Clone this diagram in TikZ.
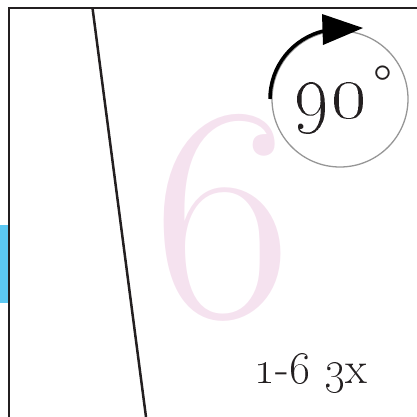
\documentclass[tikz,border=0pt]{standalone}
\definecolor{framegray}{RGB}{35,31,32}
\definecolor{tabblue}{RGB}{92,200,242}
\definecolor{sixpink}{RGB}{245,226,239}
\definecolor{ringgray}{RGB}{150,150,150}
\tikzset{
  frameline/.style={framegray, line width=3},
  ringline/.style={ringgray, line width=1.3},
  txt/.style={inner sep=0, text=framegray, font=\fontsize{24}{24}\selectfont}
}
\begin{document}
\begin{tikzpicture}[x=1bp,y=-1bp]
\useasboundingbox (0,0) rectangle (417,417);
\clip (0,0) rectangle (417,417);
\fill[tabblue] (0,225) rectangle (9,303);
\node[inner sep=0, text=sixpink, font=\fontsize{307}{307}\selectfont, anchor=base] (six) at (222.5,316) {6};
\draw[frameline] (9,430) -- (9,8) -- (430,8);
\draw[framegray, line width=2.5] (92.5,8) -- (146,417);
\coordinate (c) at (340,99);
\draw[ringline] (c) circle (68);
\draw[black, line width=3.5] ([shift={(-180:70)}]c) arc[start angle=-180, end angle=-103, radius=70];
\fill[black] (322,14) -- (363,28) -- (323,45) -- cycle;
\node[txt, scale=3.25, anchor=base west] (ninety) at (293,117) {\oldstylenums{90}};
\node[txt, scale=2.3, anchor=center] (deg) at (383,85) {\textdegree};
\node[txt, scale=1.88, anchor=base west] (reps) at (254,383) {\oldstylenums{1}-\oldstylenums{6} \oldstylenums{3}x};
\end{tikzpicture}
\end{document}
